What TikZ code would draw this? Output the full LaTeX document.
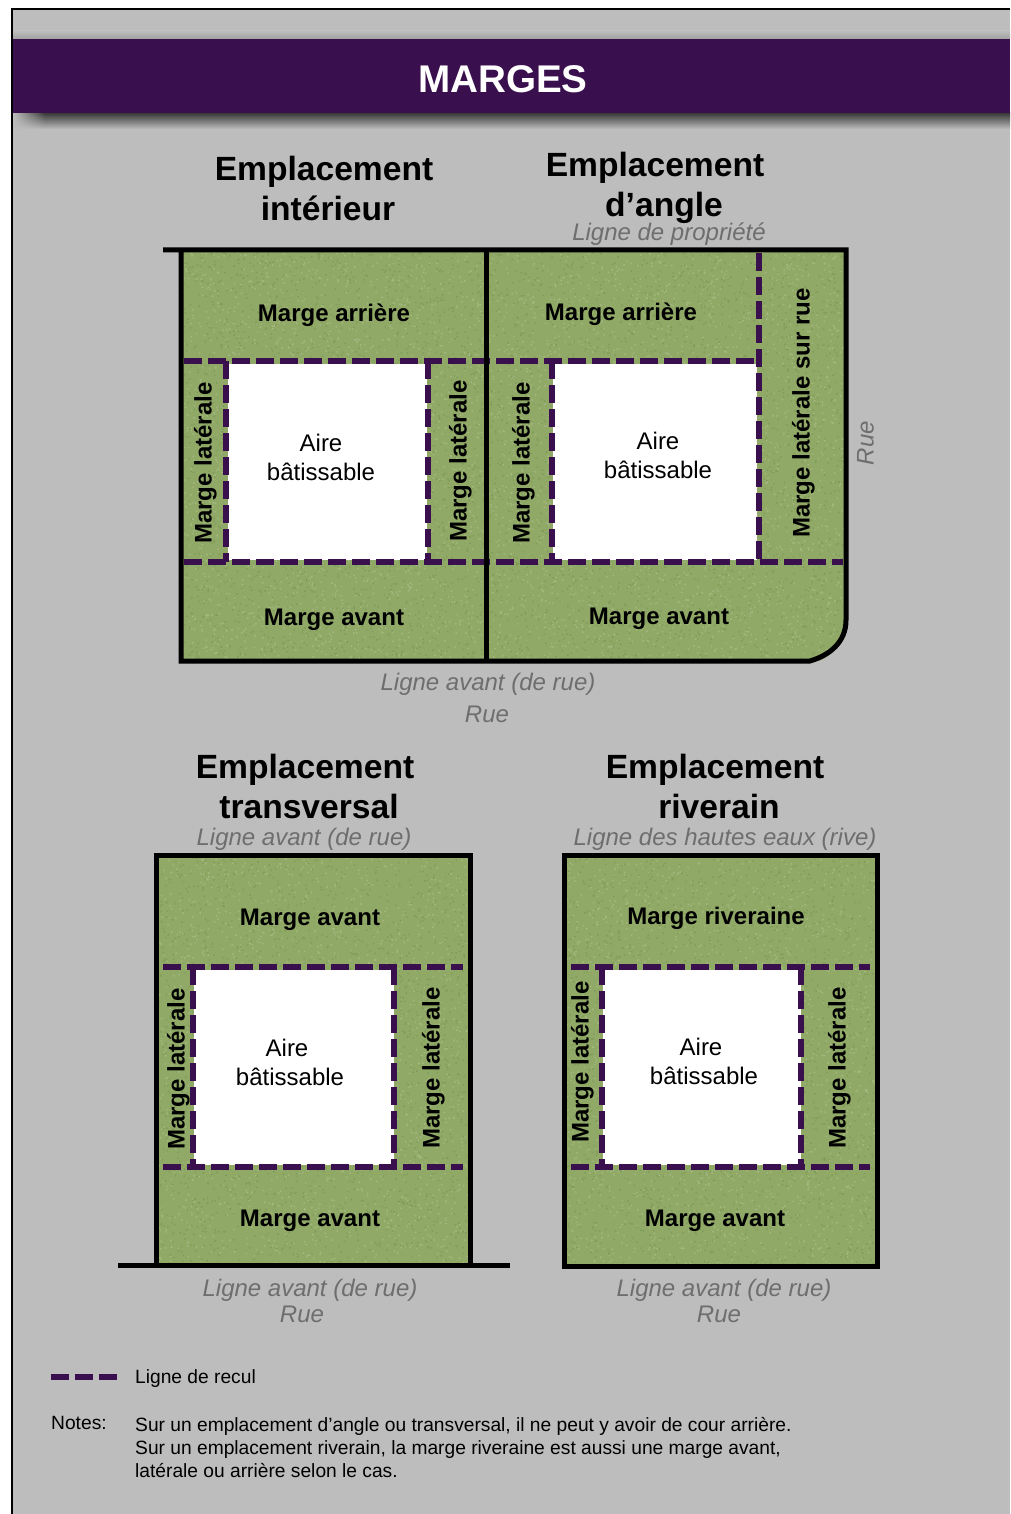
\documentclass[tikz,border=0pt]{standalone}
\usepackage{fontspec}
\usetikzlibrary{fadings}
\setmainfont{Liberation Sans}
\definecolor{panel}{HTML}{BDBDBD}
\definecolor{bar}{HTML}{3A0F4E}
\definecolor{grass}{HTML}{90A966}
\definecolor{grassL}{HTML}{A4B880}
\definecolor{grassD}{HTML}{809C58}
\definecolor{italicgray}{HTML}{6E6E6E}
\newcommand{\fsz}[1]{\fontsize{#1}{#1}\selectfont}
\newcommand{\grasspatch}[4]{%
  \fill[grass] (#1,#2) rectangle (#3,#4);
  \pgfmathsetmacro{\gw}{#3-#1}\pgfmathsetmacro{\gh}{#4-#2}
  \pgfmathtruncatemacro{\gn}{(\gw/100)*(\gh/9)*14/300}
  \foreach \c in {1,...,\gn}{
    \fill[grassL] foreach \i in {1,...,300}{ ({#1+rnd*(\gw-2)},{#2+rnd*(\gh-2)}) rectangle +(1.5,1.5) };
    \fill[grassD] foreach \i in {1,...,300}{ ({#1+rnd*(\gw-2)},{#2+rnd*(\gh-2)}) rectangle +(1.5,1.5) };
  }
}
\tikzset{
  txt/.style={inner sep=0pt,text height=.92*#1 pt,text depth=.2*#1 pt},
  titletxt/.style={txt=38.6,text=white,font=\fsz{38.6}\bfseries},
  headtxt/.style={txt=33.6,text=black,font=\fsz{33.6}\bfseries},
  margetxt/.style={txt=24,text=black,font=\fsz{24}\bfseries},
  airetxt/.style={txt=24,text=black,font=\fsz{24}},
  linetxt/.style={txt=24,text=italicgray,font=\fsz{24}\itshape},
  notetxt/.style={txt=19.2,text=black,font=\fsz{19.2},anchor=west},
  recul/.style={draw=bar,line width=6.5pt,dash pattern=on 18pt off 6pt},
  lotline/.style={draw=black,line width=5pt},
  aire/.style={fill=white}
}
\begin{document}
\begin{tikzpicture}[x=1pt,y=-1pt]
\useasboundingbox (0,0) rectangle (1010,1514);
\fill[white] (0,0) rectangle (1010,1514);
% panel
\fill[panel] (12,9) rectangle (1010,1514);
\draw[black,line width=2pt] (1010,9) -- (12,9) -- (12,1514);
% title bar
\shade[top color=panel,bottom color=black!15!panel] (13,31) rectangle (1010,39);
\shade[top color=black!70!panel,bottom color=panel] (13,113) rectangle (1010,129);
\fill[panel,path fading=east] (13,112) rectangle (45,130);
\fill[bar] (13,39) rectangle (1010,113);
\node[titletxt] (title) at (503,79) {MARGES};
\pgfmathsetseed{42}
% --- top lots
\grasspatch{181}{250}{846}{661}
\fill[panel] (812,664) -- (849,664) -- (849,622) .. controls (846,645) and (830,658) .. (812,664) -- cycle;
\fill[aire] (228,364) rectangle (427,560);
\fill[aire] (553,364) rectangle (757,560);
\draw[recul] (184,361) -- (757,361);
\draw[recul] (184,562) -- (843,562);
\draw[recul] (226,361) -- (226,562);
\draw[recul] (428,361) -- (428,562);
\draw[recul] (552,361) -- (552,562);
\draw[recul] (759,253) -- (759,562);
\draw[lotline] (163,250) -- (846,250) -- (846,620) .. controls (846,642) and (830,655) .. (810,661) -- (181,661) -- (181,250);
\draw[lotline] (486,250) -- (486,661);
% --- bottom left lot
\grasspatch{156}{855}{470}{1265}
\fill[aire] (194,970) rectangle (394,1165);
\draw[recul] (163,967) -- (463,967);
\draw[recul] (163,1167) -- (463,1167);
\draw[recul] (193,967) -- (193,1167);
\draw[recul] (394,967) -- (394,1167);
\draw[lotline] (156,1265) -- (156,855) -- (470,855) -- (470,1265);
\draw[lotline] (118,1265) -- (510,1265);
% --- bottom right lot
\grasspatch{564}{855}{877}{1266}
\fill[aire] (603,970) rectangle (801,1165);
\draw[recul] (571,967) -- (870,967);
\draw[recul] (571,1167) -- (870,1167);
\draw[recul] (602,967) -- (602,1167);
\draw[recul] (801,967) -- (801,1167);
\draw[lotline] (564,855) rectangle (877,1266);
% headings
\node[headtxt] (h1a) at (324,168) {Emplacement};
\node[headtxt] (h1b) at (328,208) {intérieur};
\node[headtxt] (h2a) at (655,164) {Emplacement};
\node[headtxt] (h2b) at (664,204) {d’angle};
\node[headtxt] (h3a) at (305,766) {Emplacement};
\node[headtxt] (h3b) at (309,806) {transversal};
\node[headtxt] (h4a) at (715,766) {Emplacement};
\node[headtxt] (h4b) at (719,806) {riverain};
% italic lines
\node[linetxt] (l1) at (669,232) {Ligne de propriété};
\node[linetxt] (l2) at (488,682) {Ligne avant (de rue)};
\node[linetxt] (l3) at (487,714) {Rue};
\node[linetxt,rotate=90] (l4) at (865,443) {Rue};
\node[linetxt] (l5) at (304,837) {Ligne avant (de rue)};
\node[linetxt] (l6) at (725,837) {Ligne des hautes eaux (rive)};
\node[linetxt] (l7) at (310,1288) {Ligne avant (de rue)};
\node[linetxt] (l8) at (302,1314) {Rue};
\node[linetxt] (l9) at (724,1288) {Ligne avant (de rue)};
\node[linetxt] (l10) at (719,1314) {Rue};
% margin labels
\node[margetxt] (m1) at (334,313) {Marge arrière};
\node[margetxt] (m2) at (621,312) {Marge arrière};
\node[margetxt,rotate=90] (m3) at (203,463) {Marge latérale};
\node[margetxt,rotate=90] (m4) at (458,461) {Marge latérale};
\node[margetxt,rotate=90] (m5) at (521,463) {Marge latérale};
\node[margetxt,rotate=90] (m6) at (801,413) {Marge latérale sur rue};
\node[margetxt] (m7) at (334,617) {Marge avant};
\node[margetxt] (m8) at (659,616) {Marge avant};
\node[margetxt] (m9) at (310,917) {Marge avant};
\node[margetxt,rotate=90] (m10) at (176,1069) {Marge latérale};
\node[margetxt,rotate=90] (m11) at (431,1068) {Marge latérale};
\node[margetxt] (m12) at (310,1218) {Marge avant};
\node[margetxt] (m13) at (716,916) {Marge riveraine};
\node[margetxt,rotate=90] (m14) at (580,1062) {Marge latérale};
\node[margetxt,rotate=90] (m15) at (837,1068) {Marge latérale};
\node[margetxt] (m16) at (715,1218) {Marge avant};
% buildable
\node[airetxt] (a1a) at (321,443) {Aire};
\node[airetxt] (a1b) at (321,472) {bâtissable};
\node[airetxt] (a2a) at (658,441) {Aire};
\node[airetxt] (a2b) at (658,470) {bâtissable};
\node[airetxt] (a3a) at (287,1048) {Aire};
\node[airetxt] (a3b) at (290,1077) {bâtissable};
\node[airetxt] (a4a) at (701,1047) {Aire};
\node[airetxt] (a4b) at (704,1076) {bâtissable};
% legend
\coordinate (legA) at (51,1377);
\coordinate (legB) at (117,1377);
\draw[recul] (legA) -- (legB);
\node[notetxt] (leg) at (135,1377) {Ligne de recul};
\node[notetxt] (n0) at (51,1423) {Notes:};
\node[notetxt] (n1) at (135,1425) {Sur un emplacement d’angle ou transversal, il ne peut y avoir de cour arrière.};
\node[notetxt] (n2) at (135,1448) {Sur un emplacement riverain, la marge riveraine est aussi une marge avant,};
\node[notetxt] (n3) at (135,1471) {latérale ou arrière selon le cas.};
\end{tikzpicture}
\end{document}
